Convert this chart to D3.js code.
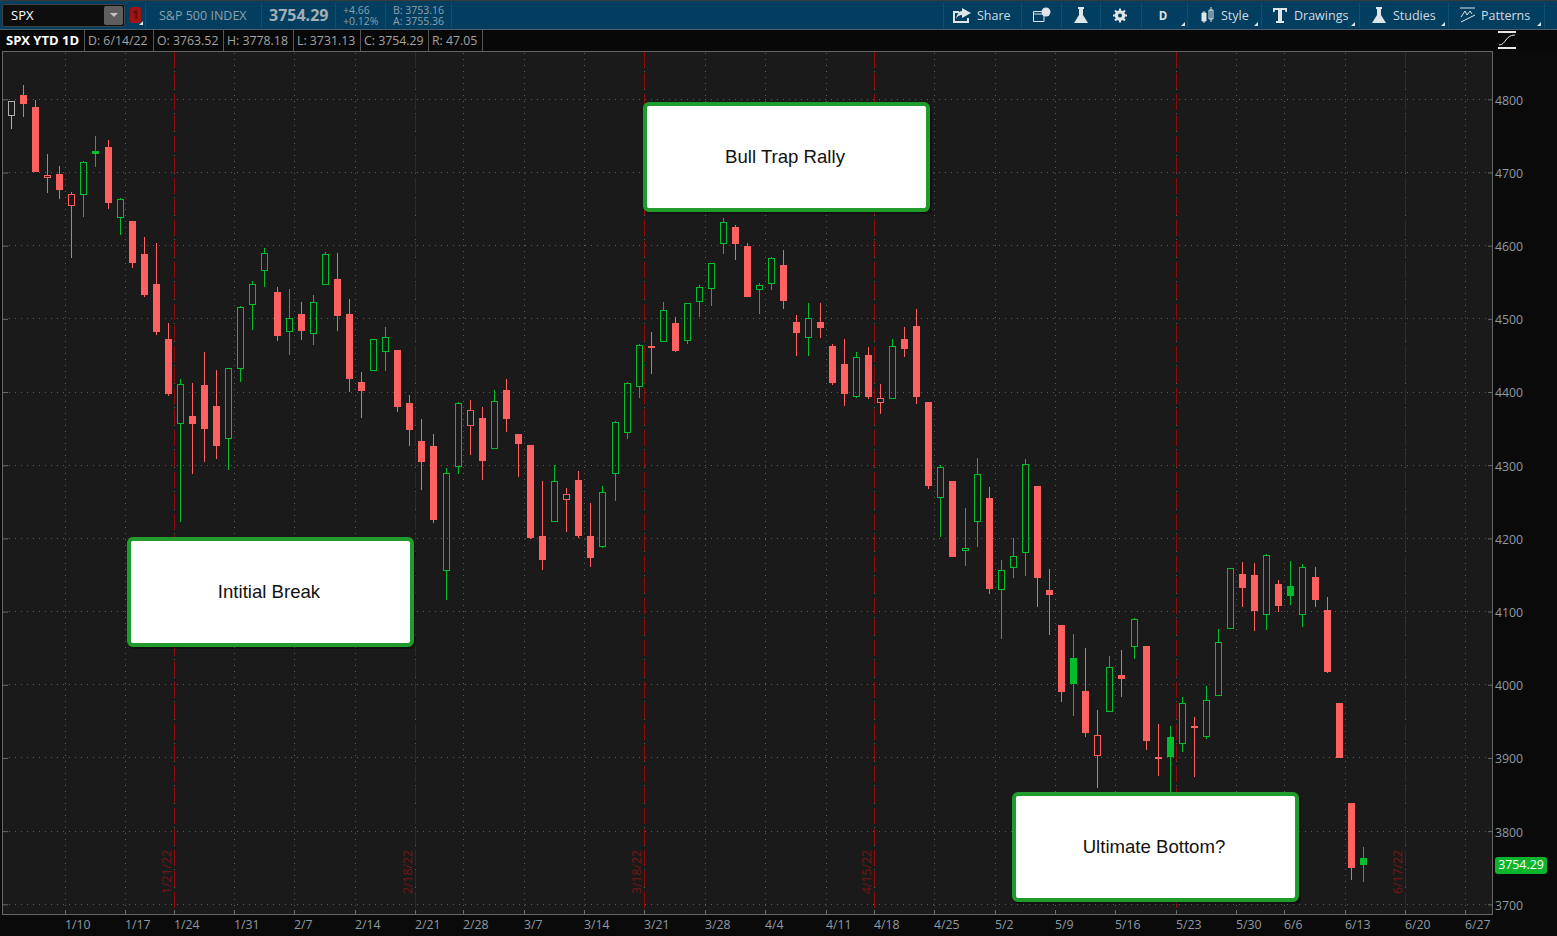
<!DOCTYPE html>
<html><head><meta charset="utf-8">
<style>html,body{margin:0;padding:0;background:#0a0a0a;overflow:hidden}svg{display:block}text{font-family:"Open Sans",sans-serif}</style>
<script src="https://cdn.jsdelivr.net/npm/d3@7/dist/d3.min.js"></script>
</head><body><svg id="c" width="1557" height="936"></svg>
<script>
const dates=["1/3","1/4","1/5","1/6","1/7","1/10","1/11","1/12","1/13","1/14","1/18","1/19","1/20","1/21","1/24","1/25","1/26","1/27","1/28","1/31",
"2/1","2/2","2/3","2/4","2/7","2/8","2/9","2/10","2/11","2/14","2/15","2/16","2/17","2/18","2/22","2/23","2/24","2/25","2/28",
"3/1","3/2","3/3","3/4","3/7","3/8","3/9","3/10","3/11","3/14","3/15","3/16","3/17","3/18","3/21","3/22","3/23","3/24","3/25","3/28","3/29","3/30","3/31",
"4/1","4/4","4/5","4/6","4/7","4/8","4/11","4/12","4/13","4/14","4/18","4/19","4/20","4/21","4/22","4/25","4/26","4/27","4/28","4/29",
"5/2","5/3","5/4","5/5","5/6","5/9","5/10","5/11","5/12","5/13","5/16","5/17","5/18","5/19","5/20","5/23","5/24","5/25","5/26","5/27","5/31",
"6/1","6/2","6/3","6/6","6/7","6/8","6/9","6/10","6/13","6/14"];
const futureDates=["6/15","6/16","6/17","6/20","6/21","6/22","6/23","6/24","6/27","6/28","6/29"];
const opens=[4777.6,4805.9,4789.5,4692.9,4697.9,4654.6,4669.6,4729.4,4734.8,4638.2,4633.7,4588.6,4547.6,4472.4,4356.7,4367.2,4409.6,4380.9,4336.2,4431.9,
4519.3,4565.8,4536.7,4482.4,4506.6,4479.7,4546.7,4554.4,4506.6,4413.7,4429.1,4455.1,4457.4,4385.0,4333.1,4326.2,4155.8,4298.0,4354.0,
4364.5,4322.5,4402.7,4342.6,4327.6,4203.2,4222.8,4252.8,4279.8,4203.2,4188.6,4288.4,4344.4,4407.3,4462.9,4468.8,4494.3,4470.1,4523.4,4541.2,4602.7,4625.5,4599.5,
4539.8,4548.0,4573.6,4495.7,4474.2,4495.7,4462.9,4438.3,4393.6,4450.6,4385.6,4390.9,4472.5,4490.2,4386.4,4255.6,4278.4,4182.8,4222.8,4255.2,
4129.9,4159.9,4180.4,4271.6,4129.5,4081.7,4036.5,3991.4,3903.0,3963.2,4013.3,4052.0,4052.9,3901.3,3928.6,3919.4,3943.6,3929.0,3985.0,4076.6,4151.3,
4150.0,4095.7,4137.7,4134.9,4095.7,4147.2,4102.1,3975.0,3838.4,3763.52];
const highs=[4797.7,4819.1,4798.6,4724.8,4708.4,4673.3,4715.3,4749.9,4744.0,4665.5,4633.7,4611.4,4603.2,4494.7,4417.4,4411.9,4454.3,4429.7,4433.2,4517.1,
4551.3,4596.4,4543.1,4540.4,4522.6,4532.2,4590.9,4589.6,4526.7,4426.9,4472.0,4489.3,4457.4,4395.5,4362.7,4342.2,4295.8,4385.9,4388.7,
4379.1,4402.4,4417.4,4342.6,4327.6,4278.0,4299.9,4268.4,4291.7,4247.9,4271.2,4360.0,4413.3,4465.2,4481.6,4522.6,4502.1,4521.6,4545.8,4575.9,4637.4,4627.8,4603.2,
4548.6,4584.5,4593.7,4504.8,4521.2,4521.2,4465.2,4472.0,4454.3,4461.1,4410.5,4472.0,4488.4,4513.0,4386.4,4299.9,4278.4,4241.1,4309.4,4269.8,
4170.0,4200.1,4308.5,4271.6,4157.7,4081.7,4068.9,4049.8,3965.1,4038.9,4047.1,4090.8,4052.9,3945.9,3943.2,3982.8,3955.5,3998.7,4075.7,4159.5,4168.1,
4166.8,4178.2,4142.7,4168.7,4164.6,4160.5,4119.5,3975.0,3838.4,3778.18];
const lows=[4759.0,4775.4,4700.7,4671.5,4663.4,4582.7,4638.8,4707.1,4650.5,4615.0,4569.1,4530.3,4478.3,4395.0,4222.8,4287.6,4304.8,4308.9,4293.0,4414.1,
4484.3,4543.9,4470.1,4451.0,4471.5,4464.7,4546.7,4483.8,4400.4,4364.9,4429.1,4429.1,4373.1,4326.6,4266.5,4221.4,4115.4,4287.6,4314.3,
4279.4,4322.5,4345.8,4284.3,4199.1,4157.2,4222.8,4209.1,4200.9,4161.3,4187.3,4251.5,4335.4,4391.4,4424.2,4468.8,4454.7,4465.2,4502.1,4517.9,4589.0,4580.8,4529.8,
4507.0,4539.0,4513.9,4449.6,4449.6,4474.2,4409.2,4381.3,4392.2,4390.5,4370.4,4390.9,4448.3,4384.0,4267.9,4201.5,4174.6,4162.7,4188.6,4124.4,
4062.9,4146.3,4149.0,4105.8,4068.4,3976.0,3957.7,3929.0,3859.3,3963.2,3983.7,4034.8,3911.2,3875.7,3810.3,3908.5,3874.3,3925.4,3985.0,4076.6,4105.8,
4073.8,4074.4,4099.0,4109.4,4079.3,4106.7,4016.1,3899.9,3733.6,3731.13];
const closes=[4797.3,4793.6,4700.7,4696.1,4676.1,4670.2,4713.9,4725.3,4658.3,4663.4,4576.3,4532.6,4482.0,4397.3,4410.5,4356.3,4349.4,4326.2,4432.4,4515.8,
4547.2,4589.6,4476.5,4500.7,4483.4,4522.6,4588.2,4503.9,4417.8,4401.4,4472.0,4474.8,4379.5,4348.1,4304.4,4225.1,4289.0,4384.6,4375.0,
4305.7,4387.3,4363.1,4329.0,4200.5,4170.5,4278.0,4260.2,4203.2,4173.2,4263.0,4358.6,4411.9,4463.8,4460.1,4511.7,4456.0,4521.2,4543.1,4575.9,4631.9,4602.3,4529.8,
4545.8,4582.7,4524.4,4480.7,4500.7,4487.5,4412.3,4397.3,4447.4,4392.6,4391.7,4462.5,4458.8,4393.2,4271.6,4297.1,4174.6,4186.9,4287.6,4130.8,
4156.4,4175.5,4301.2,4145.9,4122.6,3990.1,4001.0,3934.1,3930.9,4023.8,4007.8,4089.4,3923.1,3898.5,3901.3,3974.7,3940.9,3978.7,4058.0,4159.1,4132.2,
4100.8,4176.9,4107.6,4121.3,4160.5,4115.8,4017.4,3899.9,3749.6,3754.29];
const weekStarts=["1/10","1/18","1/24","1/31","2/7","2/14","2/22","2/28","3/7","3/14","3/21","3/28","4/4","4/11","4/18","4/25","5/2","5/9","5/16","5/23","5/31","6/6","6/13","6/20","6/27"];
const weekLabels=["1/10","1/17","1/24","1/31","2/7","2/14","2/21","2/28","3/7","3/14","3/21","3/28","4/4","4/11","4/18","4/25","5/2","5/9","5/16","5/23","5/30","6/6","6/13","6/20","6/27"];
const priceTicks=[3700,3800,3900,4000,4100,4200,4300,4400,4500,4600,4700,4800];
const expiryDates=["1/21","2/18","3/18","4/14","5/20","6/17"];
const expiryLabels=["1/21/22","2/18/22","3/18/22","4/15/22","5/20/22","6/17/22"];
const expiryBright=[true,false,true,true,true,false];
const notes=["Intitial Break","Bull Trap Rally","Ultimate Bottom?"];
const noteSlots=[10.07,52.82,83.39];
const notePrices=[4201.9,4796.3,3853.4];
const quoteCells=["D: 6/14/22","O: 3763.52","H: 3778.18","L: 3731.13","C: 3754.29","R: 47.05"];
const lastPrice=3754.29;

const svg=d3.select("#c");
const W=1557,H=936,L=3,R=1492,T=52,B=914;
const RED="#ff6060",GREEN="#02bd2e",GREY="#b0b0b0",AX="#8f9aa2";
const allDates=dates.concat(futureDates);
const xEdge=d3.scaleLinear().domain([0,allDates.length]).range([5.465,5.465+12.07*allDates.length]);
const y=d3.scaleLinear().domain([3700,4800]).range([904.3,99.3]);
const idx=d=>allDates.indexOf(d);
const px=v=>Math.floor(v)+.5;
const snap=v=>Math.floor(v-.2)+.5;

svg.append("rect").attr("width",W).attr("height",H).attr("fill","#0a0a0a");
svg.append("rect").attr("x",L).attr("y",T).attr("width",R-L).attr("height",B-T).attr("fill","#1a1a1a");

// grid
const grid=svg.append("g").attr("stroke","#5c5c5c").attr("stroke-dasharray","1 5").attr("shape-rendering","crispEdges");
grid.selectAll(".h").data(priceTicks).join("line").attr("class","h").attr("x1",9).attr("x2",1488)
 .attr("y1",d=>px(y(d))).attr("y2",d=>px(y(d)));
grid.selectAll(".v").data(weekStarts).join("line").attr("class","v").attr("x1",d=>snap(xEdge(idx(d)))).attr("x2",d=>snap(xEdge(idx(d)))).attr("y1",T+1).attr("y2",910);

// expiry lines
const exp=svg.append("g");
expiryDates.forEach((d,i)=>{
  const xx=snap(xEdge(idx(d)+1));
  exp.append("line").attr("x1",xx).attr("x2",xx).attr("y1",T).attr("y2",B)
    .attr("stroke",expiryBright[i]?"#8e0b0b":"#5e1616").attr("stroke-dasharray","16 5").attr("shape-rendering","crispEdges");
  exp.append("text").attr("transform",`translate(${xx-3.5},872) rotate(-90)`).attr("text-anchor","middle")
    .attr("font-size",12.3).attr("fill","#781616").text(expiryLabels[i]);
});

// axes
const xAxis=d3.axisBottom(xEdge).tickValues(weekStarts.map(idx)).tickSize(4).tickFormat((d,i)=>weekLabels[i]);
const gx=svg.append("g").attr("transform",`translate(0,${910})`).call(xAxis);
gx.select(".domain").remove();
gx.selectAll(".tick").attr("transform",d=>`translate(${snap(xEdge(d))},0)`);
gx.selectAll("line").attr("stroke","#6a6a6a").attr("shape-rendering","crispEdges");
gx.selectAll("text").attr("y",15.5).attr("dy",".32em").attr("x",-.5).attr("text-anchor","start").attr("font-size",12.3).attr("font-family","Open Sans").attr("fill",AX);
const yAxis=d3.axisRight(y).tickValues(priceTicks).tickSize(5).tickFormat(d3.format("d"));
const gy=svg.append("g").attr("transform",`translate(${1488},0)`).call(yAxis);
gy.select(".domain").remove();
gy.selectAll("line").attr("stroke","#6a6a6a");
gy.selectAll("text").attr("x",7).attr("y",1).attr("font-size",12.3).attr("font-family","Open Sans").attr("fill",AX);
const yl=d3.axisLeft(y).tickValues(priceTicks).tickSize(5).tickFormat("");
const gl=svg.append("g").attr("transform",`translate(8,0)`).call(yl);
gl.select(".domain").remove();gl.selectAll("line").attr("stroke","#6a6a6a");

// candles
const candles=dates.map((d,i)=>({d,i,o:opens[i],h:highs[i],l:lows[i],c:closes[i],prev:i?closes[i-1]:null}));
const col=k=>k.prev===null?GREY:(k.c>k.prev?GREEN:RED);
const cg=svg.append("g").attr("shape-rendering","crispEdges");
const cx=k=>Math.floor(xEdge(k.i+.5))+.5;
const topY=k=>Math.round(y(Math.max(k.o,k.c)));
const botY=k=>Math.round(y(Math.min(k.o,k.c)));
const node=cg.selectAll("g").data(candles).join("g");
node.append("line").attr("x1",cx).attr("x2",cx).attr("y1",k=>Math.round(y(k.h))).attr("y2",topY).attr("stroke",col);
node.append("line").attr("x1",cx).attr("x2",cx).attr("y1",botY).attr("y2",k=>Math.round(y(k.l))).attr("stroke",col);
node.filter(k=>k.c<k.o).append("rect").attr("x",k=>cx(k)-3.5).attr("width",7).attr("y",topY)
  .attr("height",k=>Math.max(2,botY(k)-topY(k))).attr("fill",col);
node.filter(k=>k.c>=k.o).append("rect").attr("x",k=>cx(k)-3).attr("width",6).attr("y",k=>topY(k)+.5)
  .attr("height",k=>Math.max(1,botY(k)-topY(k)-1)).attr("fill","none").attr("stroke",col);

// frame
const frame=svg.append("g").attr("stroke","#666").attr("shape-rendering","crispEdges");
frame.append("line").attr("x1",2.5).attr("x2",2.5).attr("y1",T).attr("y2",B+1);
frame.append("line").attr("x1",R+.5).attr("x2",R+.5).attr("y1",T).attr("y2",B+1);
frame.append("line").attr("x1",2).attr("x2",R+1).attr("y1",T-.5).attr("y2",T-.5);
frame.append("line").attr("x1",2).attr("x2",R+1).attr("y1",B+.5).attr("y2",B+.5);

// note boxes
notes.forEach((t,i)=>{
  const bx=xEdge(noteSlots[i]), by=y(notePrices[i]);
  const g=svg.append("g").attr("transform",`translate(${Math.round(bx)},${Math.round(by)})`);
  g.append("rect").attr("x",2).attr("y",2).attr("width",287).attr("height",110).attr("rx",5).attr("fill","#000").attr("opacity",.35);
  g.append("rect").attr("x",2).attr("y",2).attr("width",283).attr("height",106).attr("rx",4).attr("fill","#fff").attr("stroke","#1f9c2c").attr("stroke-width",4);
  g.append("text").attr("x",142).attr("y",54).attr("dy",".35em").attr("text-anchor","middle").attr("font-size",18.6)
   .style("font-family","'Liberation Sans',Arial,sans-serif").attr("fill","#111").text(t);
});

// last price tag
const tagY=y(lastPrice);
svg.append("rect").attr("x",1495).attr("y",Math.round(tagY)-8).attr("width",52).attr("height",17).attr("rx",3).attr("fill","#0cb52c");
svg.append("text").attr("x",1521).attr("y",tagY+.5).attr("dy",".35em").attr("text-anchor","middle").attr("font-size",12.3).attr("fill","#fff").text(d3.format(".2f")(lastPrice));

// quote row
const cellX=[88,157,227,297,364,432], divX=[84,153,223,293,360,428,482];
svg.append("rect").attr("x",2).attr("y",30).attr("width",1555).attr("height",21).attr("fill","#080808");
svg.append("text").attr("x",6).attr("y",40.5).attr("dy",".35em").attr("font-size",13).attr("font-weight",700).attr("fill","#fff").text("SPX YTD 1D");
quoteCells.forEach((t,i)=>svg.append("text").attr("x",cellX[i]).attr("y",40.5).attr("dy",".35em").attr("font-size",12.3).attr("fill","#a3a3a3").text(t));
divX.forEach(v=>svg.append("line").attr("x1",v+.5).attr("x2",v+.5).attr("y1",30).attr("y2",51).attr("stroke","#555"));
// right small icon
const ri=svg.append("g").attr("stroke","#e8e8e8").attr("fill","none");
ri.append("path").attr("d","M1498 32H1516M1498 48H1516").attr("stroke-width",2);
ri.append("path").attr("d","M1499 45C1506 45 1505 35 1515 35").attr("stroke-width",1);

// top bar
const BAR="#013e60";
svg.append("rect").attr("width",W).attr("height",30).attr("fill",BAR);
svg.append("rect").attr("width",W).attr("height",1).attr("fill","#3a3a3a");
svg.append("rect").attr("y",29).attr("width",W).attr("height",1).attr("fill","#4d5e6a");
svg.append("rect").attr("x",2.5).attr("y",4.5).attr("width",122).attr("height",22).attr("rx",2).attr("fill","#0e0e0e").attr("stroke","#444");
svg.append("rect").attr("x",104).attr("y",6).attr("width",19).attr("height",19).attr("rx",2).attr("fill","#5e5e5e");
svg.append("path").attr("d","M110 13H118L114 17Z").attr("fill","#c4c4c4");
svg.append("text").attr("x",11).attr("y",15.5).attr("dy",".35em").attr("font-size",13).attr("fill","#fff").text("SPX");
svg.append("rect").attr("x",130).attr("y",7).attr("width",11).attr("height",16).attr("rx",2).attr("fill","#a01313");
svg.append("text").attr("x",135.5).attr("y",15).attr("dy",".35em").attr("text-anchor","middle").attr("font-size",12).attr("font-weight",700).attr("fill","#5e0c0c").text("1");
svg.append("text").attr("x",159).attr("y",15.5).attr("dy",".35em").attr("font-size",12.5).attr("fill","#8ea0ad").text("S&P 500 INDEX");
svg.append("text").attr("x",269).attr("y",15.5).attr("dy",".35em").attr("font-size",16).attr("font-weight",700).attr("fill","#a3aeb5").text("3754.29");
[["+4.66",343,10.5],["+0.12%",343,21.5],["B: 3753.16",393,10.5],["A: 3755.36",393,21.5]].forEach(a=>
  svg.append("text").attr("x",a[1]).attr("y",a[2]).attr("dy",".35em").attr("font-size",10.5).attr("fill","#8ea0ad").text(a[0]));
[145,261,335,385,451,943,1021,1061,1100,1141,1187,1261,1359,1448,1544].forEach(v=>
  svg.append("line").attr("x1",v+.5).attr("x2",v+.5).attr("y1",3).attr("y2",28).attr("stroke","#0e4f73"));
[["Share",977],["Style",1221],["Drawings",1294],["Studies",1393],["Patterns",1481]].forEach(a=>
  svg.append("text").attr("x",a[1]).attr("y",15.5).attr("dy",".35em").attr("font-size",12.5).attr("fill","#d4dbe0").text(a[0]));
svg.append("text").attr("x",1163).attr("y",15.5).attr("dy",".35em").attr("text-anchor","middle").attr("font-size",11.5).attr("font-weight",700).attr("fill","#e0e0e0").text("D");
// toolbar glyphs
const ic=svg.append("g").attr("fill","#dfe5e8");
ic.append("path").attr("d","M953 11H959V13H955V21H967V18H969V23H953ZM962 8L971 13L962 18V15C959 15 958 16 956 19C957 14 959 11 962 11Z");
ic.append("path").attr("d","M1033.5 11.5H1044V21.5H1033.5ZM1033.5 14H1044").attr("fill","none").attr("stroke","#dfe5e8");
ic.append("circle").attr("cx",1046).attr("cy",12).attr("r",4.5);
const flask=x=>`M${x-3} 7H${x+3}V9H${x+2}V15L${x+7} 23H${x-7}L${x-2} 15V9H${x-3}Z`;
ic.append("path").attr("d",flask(1081));ic.append("path").attr("d",flask(1379));
ic.append("circle").attr("cx",1120).attr("cy",15.5).attr("r",5.2);
d3.range(8).forEach(i=>ic.append("rect").attr("x",1119).attr("y",8.5).attr("width",2).attr("height",3.5).attr("transform",`rotate(${i*45} 1120 15.5)`));
ic.append("circle").attr("cx",1120).attr("cy",15.5).attr("r",2).attr("fill",BAR);
ic.append("path").attr("d","M1202 13H1206V21H1202ZM1204 11V23").attr("stroke","#dfe5e8");
ic.append("path").attr("d","M1209 10H1213V19H1209ZM1211 7V22").attr("stroke","#dfe5e8").attr("fill","none");
ic.append("path").attr("d","M1273 8H1287V12H1285.5L1285 10H1282V21H1284V23H1276V21H1278V10H1275L1274.5 12H1273Z");
ic.append("path").attr("d","M1460 8H1475M1461 22L1475 15M1461 17L1465 11L1467 15L1470 11L1472 14").attr("stroke","#dfe5e8").attr("fill","none");
[1185,1258,1355,1445,1541].forEach(v=>ic.append("path").attr("d",`M${v} 26H${v-4}L${v} 22Z`));
svg.append("path").attr("d","M143 25H139L143 21Z").attr("fill","#dfe5e8");
</script></body></html>
